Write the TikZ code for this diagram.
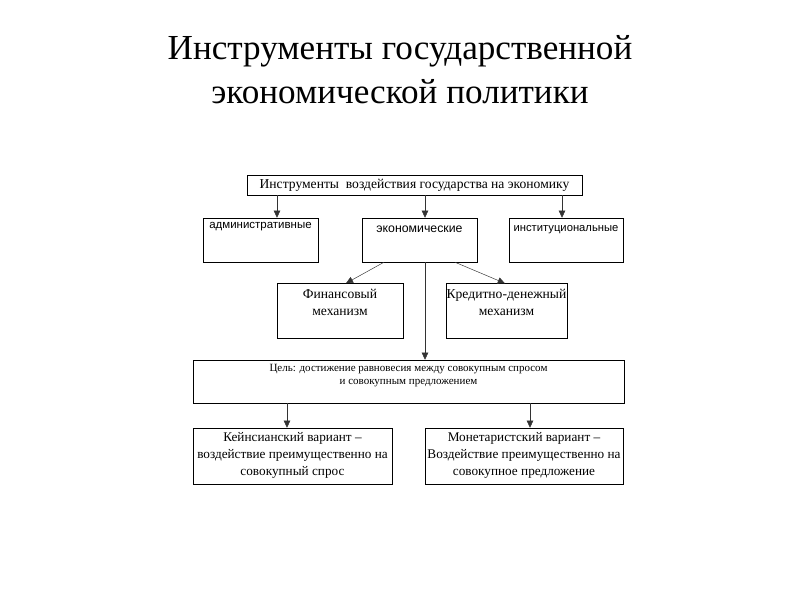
\documentclass[tikz,border=0pt]{standalone}
\usepackage{fontspec}
\setmainfont{Liberation Serif}
\setsansfont{Liberation Sans}
\usetikzlibrary{arrows.meta}

\begin{document}
\begin{tikzpicture}[x=0.03cm,y=-0.03cm,align=center]
\tikzstyle{box} = [rectangle, draw=black, inner sep=0pt]
\tikzstyle{txt} = [anchor=north, inner sep=0pt, font=\fontsize{11.6}{14}\selectfont]
\tikzstyle{arrow} = [thin,draw=black!80,-{Triangle[length=6pt,width=5.5pt]}]
\useasboundingbox (0,0) rectangle (800,600);
    % title
    \node[font=\fontsize{30}{37.5}\selectfont] (title) at (400,70)
        {Инструменты государственной\\экономической политики};
    \path
        (414.5,185) node[box, minimum width=10.05cm, minimum height=0.6cm] (top)
            {\fontsize{11.6}{13}\selectfont Инструменты\ \ воздействия государства на экономику}
        (260.5,240) node[box, minimum width=3.45cm, minimum height=1.32cm] (adm) {}
        (419.5,240) node[box, minimum width=3.45cm, minimum height=1.32cm] (econ) {}
        (566,240) node[box, minimum width=3.42cm, minimum height=1.32cm] (inst) {}
        (340,311) node[box, minimum width=3.78cm, minimum height=1.65cm] (fin) {}
        (506.5,311) node[box, minimum width=3.63cm, minimum height=1.65cm] (cred) {}
        (408.5,381.5) node[box, minimum width=12.93cm, minimum height=1.29cm] (goal) {}
        (292.5,456) node[box, minimum width=5.97cm, minimum height=1.68cm] (keyn) {}
        (524,456) node[box, minimum width=5.94cm, minimum height=1.68cm] (mon) {};

    % texts in the boxes
    \node[txt, font=\sffamily\fontsize{9.8}{11}\selectfont] at ([yshift=-4pt]adm.north) {административные};
    \node[txt, font=\sffamily\fontsize{10.5}{12}\selectfont] at ([yshift=-7pt]econ.north) {экономические};
    \node[txt, font=\sffamily\fontsize{9.6}{12}\selectfont] at ([yshift=-6pt]inst.north) {институциональные};
    \node[txt] at ([yshift=-5pt]fin.north) {Финансовый\\механизм};
    \node[txt] at ([yshift=-5pt]cred.north) {Кредитно-денежный\\механизм};
    \node[txt, font=\fontsize{9.4}{11}\selectfont] at ([yshift=-4pt]goal.north)
        {Цель: достижение равновесия между совокупным спросом\\и совокупным предложением};
    \node[txt, font=\fontsize{11.3}{14.5}\selectfont] at ([yshift=-4pt]keyn.north)
        {Кейнсианский вариант --\\воздействие преимущественно на\\совокупный спрос};
    \node[txt, font=\fontsize{11.3}{14.5}\selectfont] at ([yshift=-4pt]mon.north)
        {Монетаристский вариант --\\Воздействие преимущественно на\\совокупное предложение};

    \draw [arrow] ([xshift=-4.125cm]top.south) -- ([xshift=-4.125cm]top.south |- adm.north);
    \draw [arrow] ([xshift=0.315cm]top.south) -- ([xshift=0.315cm]top.south |- econ.north);
    \draw [arrow] ([xshift=4.425cm]top.south) -- ([xshift=4.425cm]top.south |- inst.north);
    \draw [arrow] ([xshift=-1.065cm]econ.south) -- ([xshift=0.18cm]fin.north);
    \draw [arrow] ([xshift=1.065cm]econ.south) -- ([xshift=-0.05cm]cred.north);
    \draw [arrow] ([xshift=0.165cm]econ.south) -- ([xshift=0.165cm]econ.south |- goal.north);
    \draw [arrow] ([xshift=-3.645cm]goal.south) -- ([xshift=-3.645cm]goal.south |- keyn.north);
    \draw [arrow] ([xshift=3.645cm]goal.south) -- ([xshift=3.645cm]goal.south |- mon.north);
\end{tikzpicture}
\end{document}
